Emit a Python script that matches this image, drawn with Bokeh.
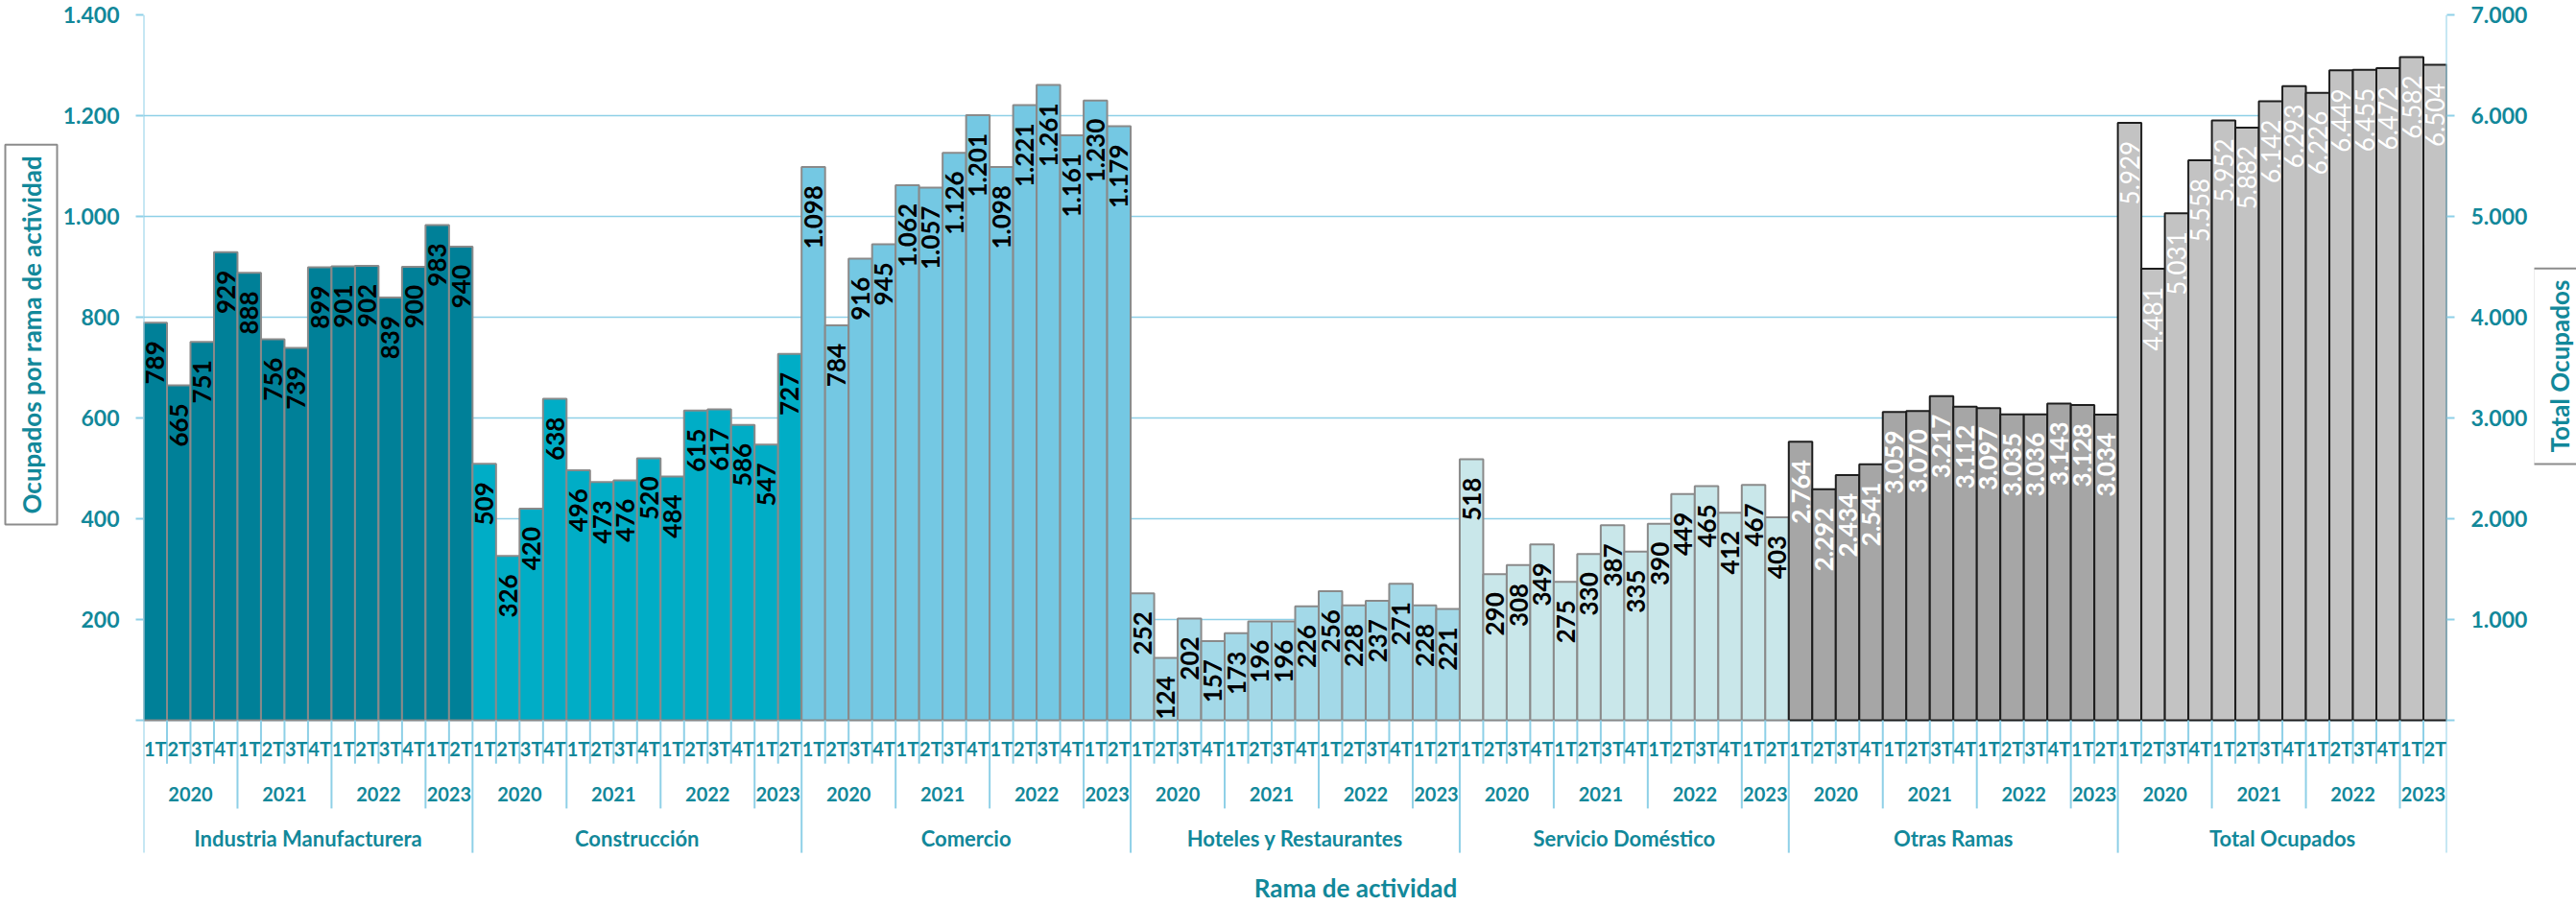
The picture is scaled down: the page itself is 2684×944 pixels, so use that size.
import math
from bokeh.plotting import figure
from bokeh.layouts import row
from bokeh.models import (FactorRange, Range1d, LinearAxis, FixedTicker,
                          ColumnDataSource, Title)
from bokeh.core.properties import value
from bokeh.embed import file_html
from bokeh.resources import INLINE

# ---------------- data ----------------
groups = ["Industria Manufacturera", "Construcción", "Comercio",
          "Hoteles y Restaurantes", "Servicio Doméstico", "Otras Ramas",
          "Total Ocupados"]
period_years = ["2020", "2020", "2020", "2020", "2021", "2021", "2021", "2021",
                "2022", "2022", "2022", "2022", "2023", "2023"]
period_quarters = ["1T", "2T", "3T", "4T", "1T", "2T", "3T", "4T",
                   "1T", "2T", "3T", "4T", "1T", "2T"]

industria = [789, 665, 751, 929, 888, 756, 739, 899, 901, 902, 839, 900, 983, 940]
construccion = [509, 326, 420, 638, 496, 473, 476, 520, 484, 615, 617, 586, 547, 727]
comercio = [1098, 784, 916, 945, 1062, 1057, 1126, 1201, 1098, 1221, 1261, 1161, 1230, 1179]
hoteles = [252, 124, 202, 157, 173, 196, 196, 226, 256, 228, 237, 271, 228, 221]
servicio = [518, 290, 308, 349, 275, 330, 387, 335, 390, 449, 465, 412, 467, 403]
otras = [2764, 2292, 2434, 2541, 3059, 3070, 3217, 3112, 3097, 3035, 3036, 3143, 3128, 3034]
total = [5929, 4481, 5031, 5558, 5952, 5882, 6142, 6293, 6226, 6449, 6455, 6472, 6582, 6504]

series = [industria, construccion, comercio, hoteles, servicio, otras, total]
on_secondary = [False, False, False, False, False, True, True]

left_ticks = [0, 200, 400, 600, 800, 1000, 1200, 1400]
right_ticks = [0, 1000, 2000, 3000, 4000, 5000, 6000, 7000]

left_title = "Ocupados por rama de actividad"
right_title = "Total Ocupados"
x_title = "Rama de actividad"

# ---------------- style ----------------
TEAL = "#12889A"
GRID = "#8ED0E7"
BOX = "#8C8C8C"
fills = ["#008098", "#00ADC6", "#74C8E3", "#A3D9E8", "#C9E7EA", "#A6A6A6", "#C3C3C3"]
outlines = ["#8A8A8A"] * 5 + ["#1E1E1E"] * 2
label_colors = ["black"] * 5 + ["white"] * 2
label_styles = ["bold"] * 6 + ["normal"]

LEFT_MAX = 1400
RIGHT_MAX = 7000
Y_BOTTOM = -369.5        # room under the baseline for the category labels and x title
Q_LABEL_Y, YEAR_LABEL_Y, GROUP_LABEL_Y, X_TITLE_Y = -57, -147, -234, -333
Q_DEPTH, YEAR_DEPTH, GROUP_DEPTH = -86, -175, -263


def fmt(n):
    return f"{n:,}".replace(",", ".")


periods = list(zip(period_years, period_quarters))
factors = [(g, y, q) for g in groups for (y, q) in periods]

p = figure(width=2640, height=944,
           x_range=FactorRange(factors=factors, factor_padding=0, subgroup_padding=0,
                               group_padding=0, range_padding=0),
           y_range=Range1d(Y_BOTTOM, LEFT_MAX),
           x_axis_location=None,
           output_backend="svg", toolbar_location=None,
           min_border_left=145, min_border_right=91,
           min_border_top=15, min_border_bottom=0)
p.extra_y_ranges = {"total": Range1d(Y_BOTTOM * RIGHT_MAX / LEFT_MAX, RIGHT_MAX)}
p.outline_line_color = None
p.background_fill_color = "white"
p.border_fill_color = "white"
for g in p.xgrid:
    g.grid_line_color = None

# axes
yl = p.yaxis[0]
yl.ticker = FixedTicker(ticks=left_ticks)
yl.major_label_overrides = {t: (fmt(t) if t else "") for t in left_ticks}
yr = LinearAxis(y_range_name="total", ticker=FixedTicker(ticks=right_ticks),
                major_label_overrides={t: (fmt(t) if t else "") for t in right_ticks})
p.add_layout(yr, "right")
for ax in (yl, yr):
    ax.axis_line_color = None
    ax.major_tick_line_color = GRID
    ax.major_tick_line_width = 2
    ax.major_tick_out = 8
    ax.major_tick_in = 0
    ax.minor_tick_line_color = None
    ax.major_label_text_font = "Lato"
    ax.major_label_text_font_style = "bold"
    ax.major_label_text_font_size = "23px"
    ax.major_label_text_color = TEAL
    ax.major_label_standoff = 17

p.ygrid.grid_line_color = GRID
p.ygrid.grid_line_width = 1.5
p.ygrid.ticker = FixedTicker(ticks=left_ticks)

# bars + value labels
for g, vals, sec, fc, lc, tc, ts in zip(groups, series, on_secondary, fills, outlines,
                                         label_colors, label_styles):
    src = ColumnDataSource(dict(x=[(g, y, q) for (y, q) in periods], v=vals,
                                lbl=[fmt(v) for v in vals]))
    kw = dict(y_range_name="total") if sec else {}
    p.vbar(x="x", top="v", width=1.0, source=src, fill_color=fc, line_color=lc,
           line_width=2, **kw)
    p.text(x="x", y="v", text="lbl", source=src, angle=math.pi / 2,
           text_align="right", text_baseline="middle", y_offset=19,
           text_font=value("Lato"), text_font_style=ts, text_font_size="26px",
           text_color=tc, **kw)

# category axis lines (drawn inside the extended frame)
sep_x, sep_y0, sep_y1 = [], [], []
for gi, g in enumerate(groups):
    for k, (y, q) in enumerate(periods):
        sep_x.append((g, y, q, -0.5))
        if k == 0:
            sep_y1.append(GROUP_DEPTH)
            sep_y0.append(LEFT_MAX if gi == 0 else 0)   # left value-axis line
        elif y != periods[k - 1][0]:
            sep_y1.append(YEAR_DEPTH)
            sep_y0.append(0)
        else:
            sep_y1.append(Q_DEPTH)
            sep_y0.append(0)
sep_x.append((groups[-1], periods[-1][0], periods[-1][1], 0.5))   # right value-axis line
sep_y0.append(LEFT_MAX)
sep_y1.append(GROUP_DEPTH)
p.segment(x0="x", y0="y0", x1="x", y1="y1",
          source=ColumnDataSource(dict(x=sep_x, y0=sep_y0, y1=sep_y1)),
          line_color=GRID, line_width=2)

p.text(x=factors, y=[Q_LABEL_Y] * len(factors), text=[f[2] for f in factors],
       text_align="center", text_baseline="middle", text_font=value("Lato"),
       text_font_style="bold", text_font_size="20px", text_color=TEAL)

year_keys = []
for g in groups:
    for y in dict.fromkeys(period_years):
        year_keys.append((g, y))
p.text(x=year_keys, y=[YEAR_LABEL_Y] * len(year_keys), text=[k[1] for k in year_keys],
       text_align="center", text_baseline="middle", text_font=value("Lato"),
       text_font_style="bold", text_font_size="20px", text_color=TEAL)

p.text(x=groups, y=[GROUP_LABEL_Y] * len(groups), text=groups,
       text_align="center", text_baseline="middle", text_font=value("Lato"),
       text_font_style="bold", text_font_size="22px", text_color=TEAL)

# x-axis title (inside the frame, below the category levels)
p.text(x=[groups[3]], y=[X_TITLE_Y], text=[x_title], x_offset=63,
       text_align="center", text_baseline="middle", text_font=value("Lato"),
       text_font_style="bold", text_font_size="26px", text_color=TEAL)

# left value-axis title
p.add_layout(Title(text=left_title, align="left", offset=398, standoff=6,
                   text_font="Lato", text_font_style="bold", text_font_size="26px",
                   text_color=TEAL, background_fill_color="white",
                   border_line_color=BOX, border_line_width=2, padding=11), "left")

# right value-axis title (reads bottom-to-top, in a box)
p2 = figure(width=44, height=944, x_range=Range1d(0, 1), y_range=Range1d(0, 944),
            x_axis_location=None, y_axis_location=None, title=None,
            output_backend="svg", toolbar_location=None, min_border=0)
p2.outline_line_color = None
p2.grid.visible = False
rt = p2.text(x=[0.61], y=[572], text=[right_title], angle=math.pi / 2,
             text_align="center", text_baseline="middle", text_font=value("Lato"),
             text_font_style="bold", text_font_size="26px", text_color=TEAL)
gprops = rt.glyph.properties()
if "border_line_color" in gprops and "background_fill_color" in gprops:
    rt.glyph.border_line_color = BOX
    rt.glyph.border_line_width = 2
    rt.glyph.background_fill_color = "white"
    if "padding" in gprops:
        rt.glyph.padding = 12

layout = row(p, p2)
open("out.html", "w").write(file_html(layout, INLINE))
